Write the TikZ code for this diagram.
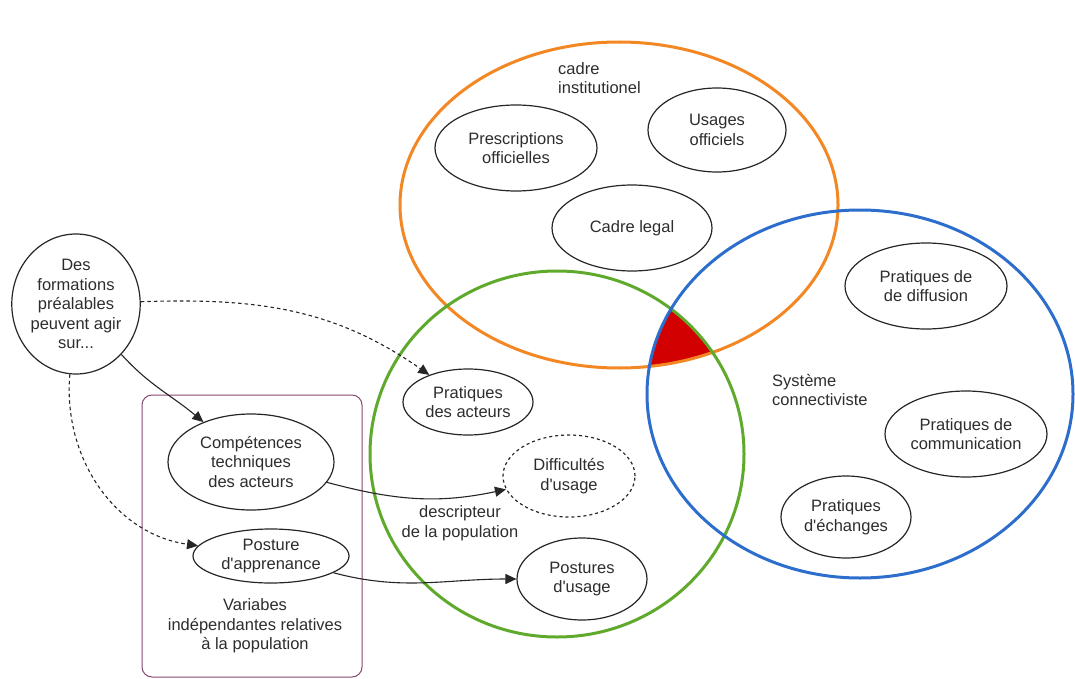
\documentclass[tikz,border=0pt]{standalone}
\usepackage{fontspec}
\setmainfont{Liberation Sans}[Ligatures=TeXOff]
\usetikzlibrary{shapes.geometric,arrows.meta}
\definecolor{orng}{RGB}{242,135,35}
\definecolor{grn}{RGB}{95,170,45}
\definecolor{blu}{RGB}{45,110,205}
\definecolor{redfill}{RGB}{210,0,0}
\definecolor{purp}{RGB}{135,70,110}
\definecolor{txt}{RGB}{45,45,45}
\begin{document}
\begin{tikzpicture}[x=1pt,y=1pt,
  bub/.style={ellipse, draw=black!85, line width=1.2pt, inner sep=0pt, align=center,
    text=txt, font=\fontsize{16.5}{19.5}\selectfont},
  lbl/.style={text=txt, font=\fontsize{16.5}{19.5}\selectfont, inner sep=0pt},
  big/.style={line width=3pt},
  conn/.style={line width=1.1pt, draw=black!85, -{Triangle[length=11pt,width=10pt]}},
  dconn/.style={conn, dash pattern=on 3.5pt off 3pt}]
\useasboundingbox (0,0) rectangle (1075,-679);
\coordinate (oc) at (619,-205);
\coordinate (gc) at (557,-454);
\coordinate (bc) at (860,-394);
% red intersection
\begin{scope}
  \clip (oc) ellipse [x radius=219, y radius=163];
  \clip (gc) ellipse [x radius=187, y radius=183];
  \fill[redfill] (bc) ellipse [x radius=213, y radius=184];
\end{scope}
\draw[big, orng] (oc) ellipse [x radius=219, y radius=163];
\draw[big, grn] (gc) ellipse [x radius=187, y radius=183];
\draw[big, blu] (bc) ellipse [x radius=213, y radius=184];
% purple box
\draw[purp, line width=1pt, rounded corners=10pt] (142,-395) rectangle (362,-677);
% nodes
\node[bub, minimum width=128, minimum height=140] (des) at (76,-304) {Des\\formations\\préalables\\peuvent agir\\sur...};
\node[bub, minimum width=166, minimum height=96] (comp) at (251,-462) {Compétences\\techniques\\des acteurs};
\node[bub, minimum width=156, minimum height=54] (post) at (271,-556) {Posture\\d'apprenance};
\node[lbl, align=center] (var) at (255,-626) {Variabes\\indépendantes relatives\\à la population};
\node[bub, minimum width=130, minimum height=66] (pa) at (468,-402) {Pratiques\\des acteurs};
\node[bub, dashed, minimum width=132, minimum height=82] (diff) at (569,-476) {Difficultés\\d'usage};
\node[lbl, align=center] (descr) at (460,-523) {descripteur\\de la population};
\node[bub, minimum width=130, minimum height=82] (pu) at (582,-579) {Postures\\d'usage};
\node[bub, minimum width=162, minimum height=86] (presc) at (516,-148) {Prescriptions\\officielles};
\node[bub, minimum width=138, minimum height=84] (uo) at (717,-130) {Usages\\officiels};
\node[bub, minimum width=160, minimum height=86] (cl) at (632,-228) {Cadre legal};
\node[lbl, align=left, anchor=west] (ci) at (558,-78) {cadre\\institutionel};
\node[bub, minimum width=162, minimum height=86] (pdd) at (926,-286) {Pratiques de\\de diffusion};
\node[lbl, align=left, anchor=west] (sc) at (772,-390) {Système\\connectiviste};
\node[bub, minimum width=162, minimum height=86] (pdc) at (966,-434) {Pratiques de\\communication};
\node[bub, minimum width=130, minimum height=82] (pde) at (846,-517) {Pratiques\\d'échanges};
% connectors
\draw[dconn] (des) to[out=2, in=145] (pa);
\draw[conn] (des) to[out=-48, in=140] (comp);
\draw[dconn] (des) to[out=-95, in=172] (post);
\draw[conn] (comp) to[out=-15, in=192] (diff);
\draw[conn] (post) to[out=-15, in=180] (pu);
\end{tikzpicture}
\end{document}
